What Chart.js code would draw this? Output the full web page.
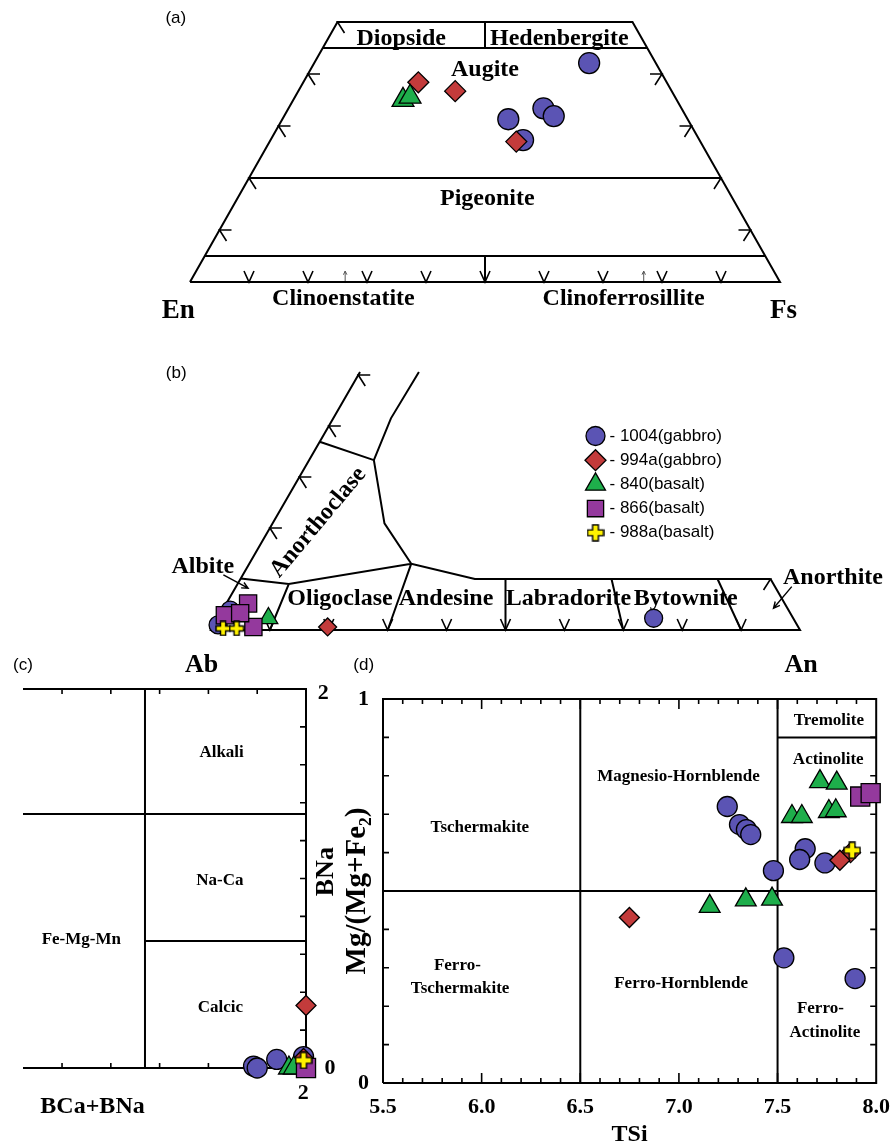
<!DOCTYPE html>
<html>
<head>
<meta charset="utf-8">
<title>Pyroxene, feldspar and amphibole classification</title>
<script src="https://cdn.jsdelivr.net/npm/chart.js@4.4.1/dist/chart.umd.min.js"></script>
<style>
  html, body { margin: 0; padding: 0; background: #fff; }
  #figure { position: relative; width: 891px; height: 1144px; overflow: hidden; }
  #figure canvas { position: absolute; }
</style>
</head>
<body>
<div id="figure">
  <canvas id="pyroxene" width="891" height="330" style="left:0;top:0"></canvas>
  <canvas id="feldspar" width="891" height="350" style="left:0;top:330px"></canvas>
  <canvas id="amphGroups" width="360" height="494" style="left:0;top:650px"></canvas>
  <canvas id="calcicAmph" width="551" height="494" style="left:340px;top:650px"></canvas>
</div>
<script>
// ---------- samples ----------
const sampleNames = ['1004(gabbro)', '994a(gabbro)', '840(basalt)', '866(basalt)', '988a(basalt)'];
const sampleColors = ['#5b54b4', '#c33b3b', '#1eae4b', '#94399d', '#fff200'];
const sampleShapes = ['circle', 'rectRot', 'triangle', 'rect', 'plus'];

// (a) pyroxene, [Wo, En, Fs] mol %
const pyx1004 = [[42.1, 11.3, 46.6], [31.3, 30.4, 38.3], [33.4, 23.4, 43.2], [31.9, 22.4, 45.7], [27.3, 29.9, 42.8]];
const pyx994a = [[38.4, 42.1, 19.5], [36.7, 36.7, 26.6], [27.0, 31.2, 41.8]];
const pyx840 = [[35.0, 46.4, 18.6], [35.6, 44.9, 19.5]];

// (b) feldspar, [Ab, An, Or] mol %
const fsp1004 = [[23.7, 74.0, 2.3], [94.8, 1.3, 3.9], [98.3, 0.7, 1.0]];
const fsp994a = [[79.9, 19.5, 0.6]];
const fsp840 = [[89.1, 8.6, 2.3]];
const fsp866 = [[91.1, 3.7, 5.2], [92.5, 6.9, 0.6], [96.2, 0.9, 2.9], [93.4, 3.3, 3.3]];
const fsp988a = [[97.8, 1.9, 0.3], [95.5, 4.2, 0.3]];

// (c) amphibole B site, [BCa+BNa, BNa]
const bsite1004 = [[1.785, 0.01], [1.80, 0.0], [1.88, 0.045], [1.99, 0.06]];
const bsite994a = [[2.0, 0.33], [1.99, 0.05]];
const bsite840 = [[1.93, 0.0], [1.95, 0.0]];
const bsite866 = [[2.0, 0.0]];
const bsite988a = [[1.99, 0.04]];

// (d) calcic amphiboles, [TSi, Mg/(Mg+Fe2)]
const amph1004 = [[7.245, 0.720], [7.307, 0.673], [7.342, 0.660], [7.364, 0.647], [7.479, 0.553],
                  [7.640, 0.610], [7.612, 0.582], [7.740, 0.573], [7.532, 0.326], [7.893, 0.272]];
const amph994a = [[6.749, 0.431], [7.870, 0.600], [7.816, 0.580]];
const amph840 = [[7.715, 0.785], [7.800, 0.781], [7.573, 0.694], [7.623, 0.694], [7.760, 0.707],
                 [7.795, 0.709], [7.156, 0.460], [7.339, 0.477], [7.472, 0.479]];
const amph866 = [[7.919, 0.746], [7.972, 0.755]];
const amph988a = [[7.878, 0.606]];

// ---------- field boundaries ----------
const pyxFields = [                    // [Wo, En, Fs]
  [[0, 100, 0], [50, 50, 0], [50, 0, 50], [0, 0, 100], [0, 100, 0]],
  [[45, 55, 0], [45, 0, 55]],
  [[45, 27.5, 27.5], [50, 25, 25]],
  [[20, 80, 0], [20, 0, 80]],
  [[5, 95, 0], [5, 0, 95]],
  [[5, 47.5, 47.5], [0, 50, 50]]
];
const fspFields = [                    // [Ab, An, Or]
  [[49.4, 0, 50.6], [100, 0, 0], [0, 100, 0], [0, 90, 10]],
  [[0, 90, 10], [50.2, 39.8, 10], [59.5, 27.5, 13.0], [82.3, 8.7, 9.0], [89.9, 0, 10.1]],
  [[59.5, 27.5, 13.0], [60.1, 19.0, 20.9], [55.7, 11.0, 33.3], [48.7, 9.8, 41.5], [39.4, 10.0, 50.6]],
  [[63.1, 0, 36.9], [55.7, 11.0, 33.3]],
  [[90, 10, 0], [82.3, 8.7, 9.0]],
  [[70, 30, 0], [59.5, 27.5, 13.0]],
  [[50, 50, 0], [45, 45, 10]],
  [[30, 70, 0], [27, 63, 10]],
  [[10, 90, 0], [9, 81, 10]]
];
const bsiteFields = [
  [[0.84, 2], [2, 2], [2, 0], [0.84, 0]],
  [[1.34, 0], [1.34, 2]],
  [[0.84, 1.34], [2, 1.34]],
  [[1.34, 0.67], [2, 0.67]]
];
const amphFields = [
  [[5.5, 0], [8, 0], [8, 1], [5.5, 1], [5.5, 0]],
  [[6.5, 0], [6.5, 1]],
  [[7.5, 0], [7.5, 1]],
  [[5.5, 0.5], [8, 0.5]],
  [[7.5, 0.9], [8, 0.9]]
];

// ---------- drawing helpers ----------
const SERIF = '"Liberation Serif", "Times New Roman", serif';
const SANS = '"Liberation Sans", Arial, sans-serif';
const TAG = `17px ${SANS}`;
const BIG = `bold 24px ${SERIF}`;
const CORNER = `bold 27px ${SERIF}`;
const SMALL = `bold 17px ${SERIF}`;

const markerRadius = { circle: 10, rectRot: 10, triangle: 12, rect: 13.5 };
const crossSize = 18;

const pyxXY = ([wo, en, fs]) => ({ x: fs + wo / 2, y: wo });
const fspXY = ([ab, an, or]) => ({ x: an + or / 2, y: or });
const plainXY = ([x, y]) => ({ x, y });

const range = (a, b, s) => {
  const out = [];
  for (let v = a; v <= b + 1e-9; v += s) out.push(+v.toFixed(3));
  return out;
};

function crossMarker(size) {
  const c = document.createElement('canvas');
  c.width = c.height = size;
  const g = c.getContext('2d');
  const lo = 1, hi = size - 1, a = size * 0.34, b = size * 0.66;
  g.beginPath();
  g.moveTo(a, lo); g.lineTo(b, lo); g.lineTo(b, a); g.lineTo(hi, a); g.lineTo(hi, b);
  g.lineTo(b, b); g.lineTo(b, hi); g.lineTo(a, hi); g.lineTo(a, b); g.lineTo(lo, b);
  g.lineTo(lo, a); g.lineTo(a, a); g.closePath();
  g.fillStyle = sampleColors[4];
  g.fill();
  g.lineWidth = 1.4;
  g.strokeStyle = '#000';
  g.stroke();
  return c;
}

function sampleSets(series, toXY, scale) {
  return series.map((pts, i) => {
    const shape = sampleShapes[i];
    return {
      label: sampleNames[i],
      data: pts.map(toXY),
      pointStyle: shape === 'plus' ? crossMarker(Math.round(crossSize * scale)) : shape,
      pointRadius: shape === 'plus' ? 8 : markerRadius[shape] * scale,
      pointBackgroundColor: sampleColors[i],
      pointBorderColor: '#000',
      pointBorderWidth: 1.3,
      showLine: false,
      clip: false,
      order: sampleNames.length - i
    };
  });
}

function fieldLines(lines, toXY) {
  const data = [];
  lines.forEach(line => {
    line.forEach(p => data.push(toXY(p)));
    data.push({ x: null, y: null });
  });
  return {
    label: 'fields', data, showLine: true, spanGaps: false,
    pointRadius: 0, borderColor: '#000', borderWidth: 2, clip: false, order: 10
  };
}

// text placed at data coordinates
function fieldNotes(items) {
  return {
    id: 'fieldNotes',
    beforeDatasetsDraw(chart) {
      const { ctx, scales: { x, y } } = chart;
      items.forEach(n => {
        ctx.save();
        ctx.font = n.font;
        ctx.fillStyle = '#000';
        ctx.textAlign = 'center';
        ctx.textBaseline = 'middle';
        ctx.translate(x.getPixelForValue(n.x), y.getPixelForValue(n.y));
        if (n.rot) ctx.rotate(n.rot * Math.PI / 180);
        ctx.fillText(n.text, 0, 0);
        ctx.restore();
      });
    }
  };
}

// small tick chevrons on the ternary edges, and pointer arrows
const TICK_SHAPES = {
  v: [[-5, -11], [0, 0], [5, -11]],
  left: [[12, 0], [0, 0], [7, 11]],
  right: [[-12, 0], [0, 0], [-7, 11]]
};
function edgeMarks(marks, arrows) {
  return {
    id: 'edgeMarks',
    beforeDatasetsDraw(chart) {
      const { ctx, scales: { x, y } } = chart;
      ctx.save();
      ctx.lineWidth = 1.6;
      ctx.strokeStyle = '#000';
      marks.forEach(m => {
        const px = x.getPixelForValue(m.x), py = y.getPixelForValue(m.y);
        ctx.beginPath();
        TICK_SHAPES[m.shape].forEach(([dx, dy], i) => {
          if (i) ctx.lineTo(px + dx, py + dy); else ctx.moveTo(px + dx, py + dy);
        });
        ctx.stroke();
      });
      arrows.forEach(a => {
        const x0 = x.getPixelForValue(a.from[0]), y0 = y.getPixelForValue(a.from[1]);
        const x1 = x.getPixelForValue(a.to[0]), y1 = y.getPixelForValue(a.to[1]);
        const ang = Math.atan2(y1 - y0, x1 - x0), h = a.head || 7;
        ctx.strokeStyle = a.color || '#000';
        ctx.lineWidth = a.width || 1.4;
        ctx.beginPath();
        ctx.moveTo(x0, y0); ctx.lineTo(x1, y1);
        ctx.moveTo(x1 - h * Math.cos(ang - 0.45), y1 - h * Math.sin(ang - 0.45));
        ctx.lineTo(x1, y1);
        ctx.lineTo(x1 - h * Math.cos(ang + 0.45), y1 - h * Math.sin(ang + 0.45));
        ctx.stroke();
      });
      ctx.restore();
    }
  };
}

// tick marks drawn inside the plot frame
function inwardTicks(sides) {
  return {
    id: 'inwardTicks',
    beforeDatasetsDraw(chart) {
      const { ctx, chartArea: a, scales: { x, y } } = chart;
      ctx.save();
      ctx.strokeStyle = '#000';
      ctx.lineWidth = 1.6;
      ctx.beginPath();
      (sides.top || []).forEach(([v, len]) => { const p = x.getPixelForValue(v); ctx.moveTo(p, a.top); ctx.lineTo(p, a.top + len); });
      (sides.bottom || []).forEach(([v, len]) => { const p = x.getPixelForValue(v); ctx.moveTo(p, a.bottom); ctx.lineTo(p, a.bottom - len); });
      (sides.left || []).forEach(([v, len]) => { const p = y.getPixelForValue(v); ctx.moveTo(a.left, p); ctx.lineTo(a.left + len, p); });
      (sides.right || []).forEach(([v, len]) => { const p = y.getPixelForValue(v); ctx.moveTo(a.right, p); ctx.lineTo(a.right - len, p); });
      ctx.stroke();
      ctx.restore();
    }
  };
}

// symbol key listing the samples
function sampleKey(pos) {
  return {
    id: 'sampleKey',
    afterDatasetsDraw(chart) {
      const { ctx } = chart;
      const sets = chart.data.datasets.filter(d => sampleNames.includes(d.label));
      ctx.save();
      sets.forEach((ds, i) => {
        const cy = pos.y + i * pos.gap;
        const shape = sampleShapes[i];
        ctx.fillStyle = ds.pointBackgroundColor;
        ctx.strokeStyle = '#000';
        ctx.lineWidth = 1.3;
        Chart.helpers.drawPoint(ctx, {
          pointStyle: shape === 'plus' ? crossMarker(18) : shape,
          radius: pos.radius[shape] || 8, borderWidth: 1.3, rotation: 0
        }, pos.x, cy);
        ctx.fillStyle = '#000';
        ctx.font = `17px ${SANS}`;
        ctx.textAlign = 'left';
        ctx.textBaseline = 'middle';
        ctx.fillText('- ' + ds.label, pos.x + 14, cy);
      });
      ctx.restore();
    }
  };
}

function hiddenAxes(x, y) {
  return {
    x: { type: 'linear', display: false, min: x[0], max: x[1] },
    y: { type: 'linear', display: false, min: y[0], max: y[1] }
  };
}

function panel(id, cfg) {
  return new Chart(document.getElementById(id), {
    type: 'scatter',
    data: { datasets: cfg.datasets },
    options: {
      responsive: false,
      animation: false,
      events: [],
      layout: { padding: cfg.padding },
      scales: cfg.scales,
      plugins: { legend: { display: false }, tooltip: { enabled: false } }
    },
    plugins: cfg.plugins
  });
}

// ---------- (a) pyroxene quadrilateral ----------
panel('pyroxene', {
  padding: { left: 190, right: 111, top: 22, bottom: 48 },
  scales: hiddenAxes([0, 100], [0, 50]),
  datasets: [fieldLines(pyxFields, pyxXY), ...sampleSets([pyx1004, pyx994a, pyx840, [], []], pyxXY, 1.05)],
  plugins: [
    fieldNotes([
      { text: '(a)', x: -2.4, y: 50.8, font: TAG },
      { text: 'Diopside', x: 35.8, y: 46.8, font: BIG },
      { text: 'Hedenbergite', x: 62.6, y: 46.8, font: BIG },
      { text: 'Augite', x: 50.0, y: 40.8, font: BIG },
      { text: 'Pigeonite', x: 50.4, y: 16.0, font: BIG },
      { text: 'Clinoenstatite', x: 26.0, y: -3.3, font: BIG },
      { text: 'Clinoferrosillite', x: 73.5, y: -3.3, font: BIG },
      { text: 'En', x: -2.0, y: -5.6, font: CORNER },
      { text: 'Fs', x: 100.6, y: -5.6, font: CORNER }
    ]),
    edgeMarks(
      [
        ...[10, 20, 30, 40, 50].map(w => ({ x: w / 2, y: w, shape: 'left' })),
        ...[10, 20, 30, 40].map(w => ({ x: 100 - w / 2, y: w, shape: 'right' })),
        ...range(10, 90, 10).map(fs => ({ x: fs, y: 0, shape: 'v' }))
      ],
      [
        { from: [26.3, -0.2], to: [26.3, 2.1], color: '#555', width: 1, head: 4 },
        { from: [76.9, -0.2], to: [76.9, 2.1], color: '#555', width: 1, head: 4 }
      ]
    )
  ]
});

// ---------- (b) feldspar ternary ----------
panel('feldspar', {
  padding: { left: 211, right: 91, top: 45, bottom: 50 },
  scales: hiddenAxes([0, 100], [0, 50]),
  datasets: [fieldLines(fspFields, fspXY), ...sampleSets([fsp1004, fsp994a, fsp840, fsp866, fsp988a], fspXY, 0.9)],
  plugins: [
    fieldNotes([
      { text: '(b)', x: -5.9, y: 50.4, font: TAG },
      { text: 'Anorthoclase', x: 18.2, y: 21.1, font: BIG, rot: -50 },
      { text: 'Albite', x: -1.4, y: 12.3, font: BIG },
      { text: 'Oligoclase', x: 21.9, y: 6.2, font: BIG },
      { text: 'Andesine', x: 39.9, y: 6.2, font: BIG },
      { text: 'Labradorite', x: 60.7, y: 6.2, font: BIG },
      { text: 'Bytownite', x: 80.6, y: 6.2, font: BIG },
      { text: 'Anorthite', x: 105.6, y: 10.2, font: BIG },
      { text: 'Ab', x: -1.6, y: -7.0, font: `bold 26px ${SERIF}` },
      { text: 'An', x: 100.2, y: -7.0, font: `bold 26px ${SERIF}` }
    ]),
    edgeMarks(
      [
        ...[20, 30, 40, 50].map(o => ({ x: o / 2, y: o, shape: 'left' })),
        { x: 95, y: 10, shape: 'right' },
        ...range(10, 90, 10).map(an => ({ x: an, y: 0, shape: 'v' }))
      ],
      [
        { from: [2.1, 10.8], to: [6.3, 8.2] },
        { from: [98.6, 8.5], to: [95.5, 4.25] }
      ]
    ),
    sampleKey({ x: 595.5, y: 106, gap: 24.2, radius: { circle: 9.5, rectRot: 10.5, triangle: 11.5, rect: 11.5 } })
  ]
});

// ---------- (c) amphibole groups ----------
panel('amphGroups', {
  padding: { left: 23, right: 54, top: 39, bottom: 76 },
  scales: hiddenAxes([0.84, 2.0], [0, 2]),
  datasets: [fieldLines(bsiteFields, plainXY), ...sampleSets([bsite1004, bsite994a, bsite840, bsite866, bsite988a], plainXY, 1)],
  plugins: [
    fieldNotes([
      { text: '(c)', x: 0.84, y: 2.124, font: TAG },
      { text: 'Alkali', x: 1.654, y: 1.662, font: SMALL },
      { text: 'Na-Ca', x: 1.647, y: 0.991, font: SMALL },
      { text: 'Fe-Mg-Mn', x: 1.079, y: 0.675, font: SMALL },
      { text: 'Calcic', x: 1.649, y: 0.317, font: SMALL },
      { text: '2', x: 2.071, y: 1.979, font: `bold 22px ${SERIF}` },
      { text: '0', x: 2.098, y: 0.0, font: `bold 22px ${SERIF}` },
      { text: '2', x: 1.989, y: -0.135, font: `bold 22px ${SERIF}` },
      { text: 'BCa+BNa', x: 1.125, y: -0.206, font: `bold 24px ${SERIF}` },
      { text: 'BNa', x: 2.085, y: 1.036, font: `bold 26px ${SERIF}`, rot: -90 }
    ]),
    inwardTicks({
      top: range(1.0, 1.8, 0.2).map(v => [v, 5]),
      bottom: range(1.0, 1.8, 0.2).map(v => [v, 5]),
      right: range(0.2, 1.8, 0.2).map(v => [v, 6])
    })
  ]
});

// ---------- (d) calcic amphibole classification ----------
const minorTicks = range(5.6, 7.9, 0.1).map(v => [v, Math.abs(v * 2 - Math.round(v * 2)) < 1e-6 ? 10 : 5]);
const yTicks = range(0.1, 0.9, 0.1).map(v => [v, 6]);
const numFont = { family: SERIF, size: 22, weight: 'bold' };

panel('calcicAmph', {
  padding: { left: 0, right: 13, top: 49, bottom: 0 },
  scales: {
    x: {
      type: 'linear', min: 5.5, max: 8,
      grid: { display: false, drawTicks: false },
      border: { display: false },
      ticks: { stepSize: 0.5, autoSkip: false, maxRotation: 0, padding: 11, color: '#000', font: numFont,
               callback: v => v.toFixed(1) },
      title: { display: true, text: 'TSi', color: '#000', font: { family: SERIF, size: 24, weight: 'bold' },
               padding: { top: 0, bottom: -5 } },
      afterFit: s => { s.height = 61; s.paddingLeft = 0; s.paddingRight = 0; }
    },
    y: {
      type: 'linear', min: 0, max: 1,
      grid: { display: false, drawTicks: false },
      border: { display: false },
      ticks: { stepSize: 1, padding: 14, color: '#000', font: numFont },
      title: { display: true, text: 'Mg/(Mg+Fe₂)', color: '#000', font: { family: SERIF, size: 29, weight: 'bold' },
               padding: { top: 0, bottom: 0 } },
      afterFit: s => { s.width = 43; s.paddingTop = 0; s.paddingBottom = 0; }
    }
  },
  datasets: [fieldLines(amphFields, plainXY), ...sampleSets([amph1004, amph994a, amph840, amph866, amph988a], plainXY, 1)],
  plugins: [
    fieldNotes([
      { text: '(d)', x: 5.402, y: 1.087, font: TAG },
      { text: 'Tremolite', x: 7.760, y: 0.945, font: SMALL },
      { text: 'Actinolite', x: 7.757, y: 0.843, font: SMALL },
      { text: 'Magnesio-Hornblende', x: 6.998, y: 0.799, font: SMALL },
      { text: 'Tschermakite', x: 5.991, y: 0.666, font: SMALL },
      { text: 'Ferro-', x: 5.877, y: 0.306, font: SMALL },
      { text: 'Tschermakite', x: 5.891, y: 0.245, font: SMALL },
      { text: 'Ferro-Hornblende', x: 7.011, y: 0.260, font: SMALL },
      { text: 'Ferro-', x: 7.717, y: 0.193, font: SMALL },
      { text: 'Actinolite', x: 7.740, y: 0.132, font: SMALL }
    ]),
    inwardTicks({ top: minorTicks, bottom: minorTicks, left: yTicks, right: yTicks })
  ]
});
</script>
</body>
</html>
